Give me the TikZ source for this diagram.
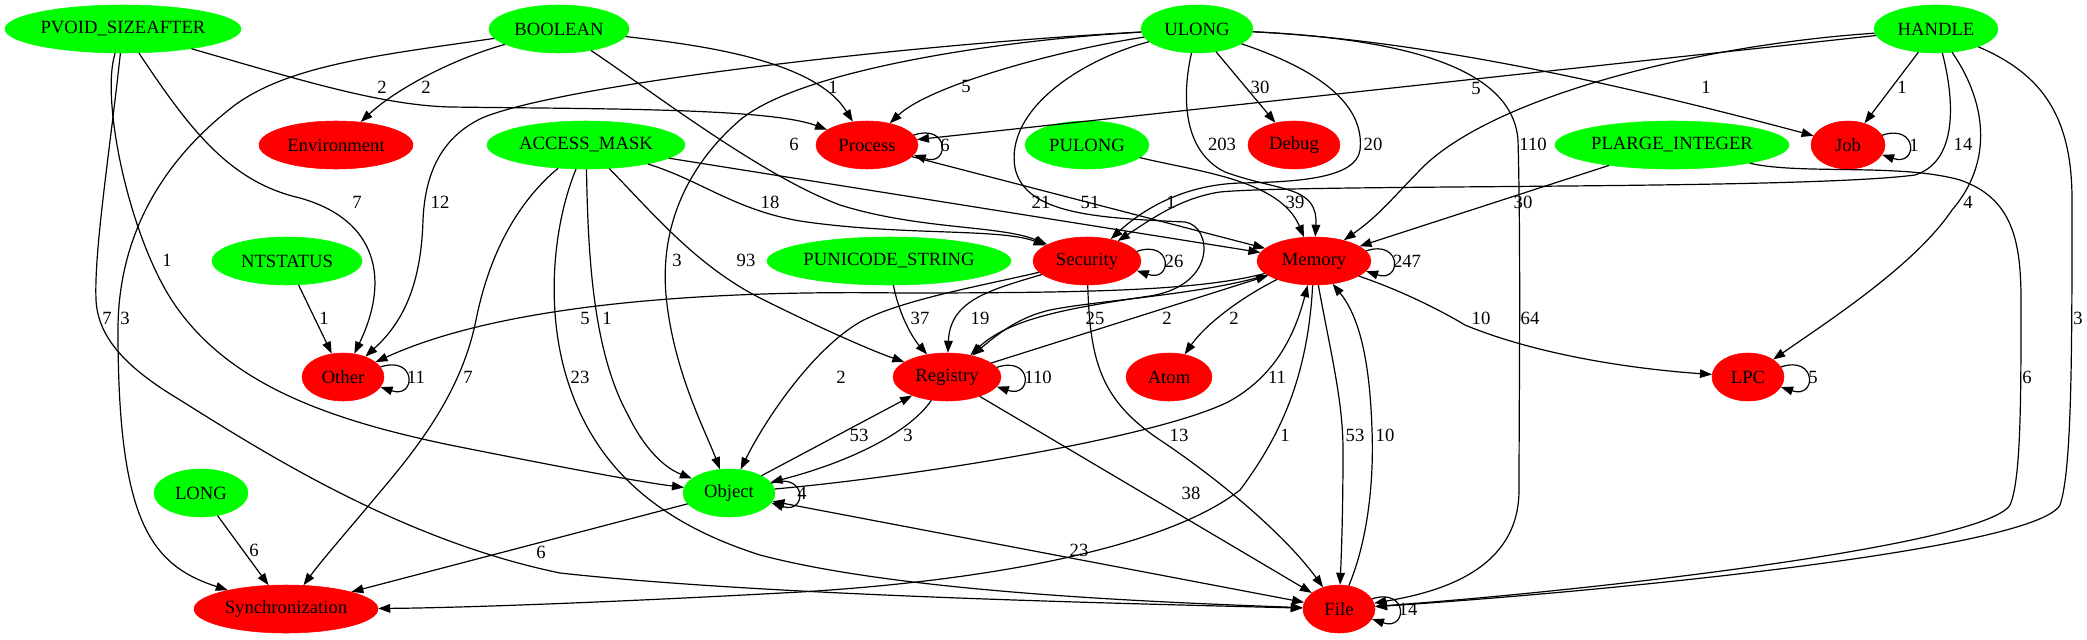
\documentclass[tikz,border=0pt]{standalone}
\usepackage{fontspec}
\setmainfont{Liberation Serif}
\newfontfamily\gvserif{Liberation Serif}
\usetikzlibrary{shapes.geometric,arrows.meta}
\definecolor{gvgreen}{RGB}{0,255,0}
\definecolor{gvred}{RGB}{255,0,0}
\newcommand\gvtxt[1]{\makebox[0pt]{#1}}
\begin{document}
\begin{tikzpicture}[x=0.75pt,y=-0.75pt,
  gvnode/.style={ellipse, inner sep=0pt, minimum height=36pt, font=\gvserif\fontsize{14pt}{16pt}\selectfont},
  gn/.style={gvnode, fill=gvgreen, draw=gvgreen},
  rn/.style={gvnode, fill=gvred, draw=gvred},
  gvedge/.style={draw=black, line width=0.9pt, -{Triangle[length=9pt,width=6.5pt]}},
  gvboth/.style={draw=black, line width=0.9pt, {Triangle[length=9pt,width=6.5pt]}-{Triangle[length=9pt,width=6.5pt]}},
  lbl/.style={font=\gvserif\fontsize{14pt}{16pt}\selectfont, inner sep=0pt}]
\fill[white] (0,0) rectangle (2087,639);
\useasboundingbox (0,0) rectangle (2087,639);
% rank 0
\node[gn, minimum width=177pt] (pvoid) at (123,29) {\gvtxt{PVOID\_SIZEAFTER}};
\node[gn, minimum width=105pt] (boolean) at (559,29) {\gvtxt{BOOLEAN}};
\node[gn, minimum width=84pt] (ulong) at (1197,29) {\gvtxt{ULONG}};
\node[gn, minimum width=93pt] (handle) at (1936,29) {\gvtxt{HANDLE}};
% rank 1
\node[rn, minimum width=115.5pt] (env) at (336,145) {\gvtxt{Environment}};
\node[gn, minimum width=148.5pt] (access) at (586,145) {\gvtxt{ACCESS\_MASK}};
\node[rn, minimum width=76.5pt] (process) at (867,145) {\gvtxt{Process}};
\node[gn, minimum width=93pt] (pulong) at (1087,145) {\gvtxt{PULONG}};
\node[rn, minimum width=69pt] (debug) at (1294,145) {\gvtxt{Debug}};
\node[gn, minimum width=175.5pt] (plarge) at (1672,145) {\gvtxt{PLARGE\_INTEGER}};
\node[rn, minimum width=55.5pt] (job) at (1848,145) {\gvtxt{Job}};
% rank 2
\node[gn, minimum width=112.5pt] (ntstatus) at (287,261) {\gvtxt{NTSTATUS}};
\node[gn, minimum width=183pt] (punicode) at (889,261) {\gvtxt{PUNICODE\_STRING}};
\node[rn, minimum width=81pt] (security) at (1087,261) {\gvtxt{Security}};
\node[rn, minimum width=85.5pt] (memory) at (1314,261) {\gvtxt{Memory}};
% rank 3
\node[rn, minimum width=61.5pt] (other) at (343,377) {\gvtxt{Other}};
\node[rn, minimum width=81pt] (registry) at (947,377) {\gvtxt{Registry}};
\node[rn, minimum width=64.5pt] (atom) at (1169,377) {\gvtxt{Atom}};
\node[rn, minimum width=54pt] (lpc) at (1748,377) {\gvtxt{LPC}};
% rank 4
\node[gn, minimum width=70.5pt] (long) at (201,493) {\gvtxt{LONG}};
\node[gn, minimum width=69pt] (object) at (729,493) {\gvtxt{Object}};
% rank 5
\node[rn, minimum width=138pt] (sync) at (286,609) {\gvtxt{Synchronization}};
\node[rn, minimum width=54pt] (file) at (1339,609) {\gvtxt{File}};

% PVOID_SIZEAFTER
\draw[gvedge] (pvoid) .. controls (300,80) and (380,105) .. (450,107) .. controls (600,109) and (770,108) .. (process) node[lbl] (l01) at (382,87) {2};
\draw[gvedge] (pvoid) .. controls (190,130) and (230,182) .. (300,198) .. controls (378,220) and (390,280) .. (other) node[lbl] (l02) at (357,202) {7};
\draw[gvedge] (pvoid) .. controls (100,100) and (130,240) .. (175,305) .. controls (230,385) and (330,420) .. (450,445) .. controls (560,467) and (640,482) .. (object) node[lbl] (l03) at (167,260) {1};
\draw[gvedge] (pvoid) .. controls (110,150) and (94,250) .. (96,300) .. controls (98,340) and (130,370) .. (180,400) .. controls (260,450) and (400,540) .. (560,573) .. controls (760,595) and (1100,603) .. (file) node[lbl] (l04) at (107,318) {7};
% BOOLEAN
\draw[gvedge] (boolean) .. controls (450,60) and (395,90) .. (env) node[lbl] (l05) at (426,87) {2};
\draw[gvedge] (boolean) .. controls (380,55) and (290,65) .. (235,105) .. controls (150,170) and (118,250) .. (118,330) .. controls (118,520) and (150,565) .. (sync) node[lbl] (l06) at (125,318) {3};
\draw[gvedge] (boolean) .. controls (700,45) and (815,60) .. (process) node[lbl] (l07) at (833,87) {1};
\draw[gvedge] (boolean) .. controls (650,90) and (760,175) .. (840,205) .. controls (920,230) and (1000,225) .. (security) node[lbl] (l08) at (794,144) {6};
% ULONG
\draw[gvedge] (ulong) .. controls (1060,50) and (930,85) .. (process) node[lbl] (l09) at (966,86) {5};
\draw[gvedge] (ulong) .. controls (900,45) and (560,85) .. (482,118) .. controls (440,138) and (425,175) .. (423,220) .. controls (421,290) and (400,325) .. (other) node[lbl] (l10) at (440,202) {12};
\draw[gvedge] (ulong) .. controls (1000,40) and (800,70) .. (740,120) .. controls (688,165) and (660,225) .. (666,295) .. controls (673,370) and (705,430) .. (object) node[lbl] (l11) at (677,260) {3};
\draw[gvedge] (ulong) -- (debug) node[lbl] (l12) at (1260,87) {30};
\draw[gvedge] (ulong) .. controls (1183,90) and (1180,150) .. (1225,172) .. controls (1280,192) and (1318,185) .. (memory) node[lbl] (l13) at (1222,144) {203};
\draw[gvedge] (ulong) .. controls (1320,70) and (1365,105) .. (1360,150) .. controls (1356,178) and (1300,182) .. (1240,183) .. controls (1180,185) and (1140,212) .. (security) node[lbl] (l14) at (1373,144) {20};
\draw[gvedge] (ulong) .. controls (1380,38) and (1512,60) .. (1518,140) .. controls (1521,250) and (1519,400) .. (1519,490) .. controls (1519,570) and (1440,592) .. (file) node[lbl] (l15) at (1530,318) {64};
\draw[gvedge] (ulong) .. controls (1380,38) and (1550,65) .. (job) node[lbl] (l16) at (1706,87) {1};
\draw[gvedge] (ulong) .. controls (1080,60) and (1005,110) .. (1015,168) .. controls (1025,215) and (1100,218) .. (1185,222) .. controls (1212,226) and (1218,285) .. (1150,296) .. controls (1070,308) and (1010,318) .. (registry) node[lbl] (l17) at (1090,202) {51};
% HANDLE
\draw[gvedge] (handle) -- (process) node[lbl] (l18) at (1476,88) {5};
\draw[gvedge] (handle) .. controls (1700,45) and (1500,95) .. (1425,165) .. controls (1395,195) and (1380,215) .. (memory) node[lbl] (l19) at (1533,144) {110};
\draw[gvedge] (handle) -- (job) node[lbl] (l20) at (1902,87) {1};
\draw[gvedge] (handle) .. controls (1952,90) and (1962,160) .. (1915,175) .. controls (1800,190) and (1300,184) .. (1220,192) .. controls (1180,198) and (1150,220) .. (security) node[lbl] (l21) at (1963,144) {14};
\draw[gvedge] (handle) .. controls (1985,100) and (1995,160) .. (1952,210) .. controls (1915,265) and (1830,320) .. (lpc) node[lbl] (l22) at (1968,202) {4};
\draw[gvedge] (handle) .. controls (2045,75) and (2072,120) .. (2072,200) .. controls (2072,350) and (2072,470) .. (2060,505) .. controls (2035,550) and (1600,592) .. (file) node[lbl] (l23) at (2078,318) {3};
% PULONG, PLARGE_INTEGER
\draw[gvedge] (pulong) .. controls (1200,172) and (1280,180) .. (memory) node[lbl] (l24) at (1295,202) {39};
\draw[gvedge] (plarge) -- (memory) node[lbl] (l25) at (1523,202) {30};
\draw[gvedge] (plarge) .. controls (1800,175) and (1900,163) .. (1960,180) .. controls (2012,198) and (2021,240) .. (2021,300) .. controls (2021,400) and (2021,480) .. (2010,505) .. controls (1985,545) and (1600,590) .. (file) node[lbl] (l26) at (2027,377) {6};
% self loops
\draw[gvedge] (process.12) .. controls +(36,-12) and +(36,12) .. (process.-12) node[lbl] (l27) at (945,145) {6};
\draw[gvedge] (job.16) .. controls +(36,-12) and +(36,12) .. (job.-16) node[lbl] (l28) at (1914,145) {1};
\draw[gvedge] (security.11) .. controls +(36,-12) and +(36,12) .. (security.-11) node[lbl] (l29) at (1174,261) {26};
\draw[gvedge] (memory.11) .. controls +(36,-12) and +(36,12) .. (memory.-11) node[lbl] (l30) at (1407,261) {247};
\draw[gvedge] (registry.11) .. controls +(36,-12) and +(36,12) .. (registry.-11) node[lbl] (l31) at (1038,377) {110};
\draw[gvedge] (other.15) .. controls +(36,-12) and +(36,12) .. (other.-15) node[lbl] (l32) at (416,377) {11};
\draw[gvedge] (lpc.17) .. controls +(36,-12) and +(36,12) .. (lpc.-17) node[lbl] (l33) at (1813,377) {5};
\draw[gvedge] (object.13) .. controls +(36,-12) and +(36,12) .. (object.-13) node[lbl] (l34) at (802,493) {4};
\draw[gvedge] (file.17) .. controls +(36,-12) and +(36,12) .. (file.-17) node[lbl] (l35) at (1408,609) {14};
% NTSTATUS
\draw[gvedge] (ntstatus) -- (other) node[lbl] (l36) at (324,318) {1};
% ACCESS_MASK
\draw[gvedge] (access) .. controls (700,180) and (735,210) .. (800,221) .. controls (900,236) and (1000,228) .. (security) node[lbl] (l37) at (770,202) {18};
\draw[gvedge] (access) -- (memory) node[lbl] (l38) at (1041,202) {21};
\draw[gvedge] (access) .. controls (650,210) and (695,265) .. (760,298) .. controls (820,328) and (870,350) .. (registry) node[lbl] (l39) at (746,260) {93};
\draw[gvedge] (access) .. controls (520,200) and (490,250) .. (476,320) .. controls (462,390) and (420,445) .. (380,492) .. controls (350,528) and (322,560) .. (sync) node[lbl] (l40) at (468,377) {7};
\draw[gvedge] (access) .. controls (555,220) and (545,300) .. (565,372) .. controls (590,460) and (650,520) .. (760,555) .. controls (900,592) and (1150,602) .. (file) node[lbl] (l41) at (580,377) {23};
\draw[gvedge] (access) .. controls (588,250) and (592,350) .. (628,415) .. controls (645,450) and (665,468) .. (object) node[lbl] (l42) at (607,318) {1};
% PUNICODE_STRING, Process
\draw[gvedge] (punicode) .. controls (898,310) and (910,335) .. (registry) node[lbl] (l43) at (920,318) {37};
\draw[gvedge] (process) -- (memory) node[lbl] (l44) at (1171,202) {1};
% Security
\draw[gvedge] (security) .. controls (990,290) and (950,300) .. (registry) node[lbl] (l45) at (980,318) {19};
\draw[gvedge] (security) .. controls (985,285) and (900,300) .. (860,322) .. controls (812,350) and (765,420) .. (object) node[lbl] (l46) at (841,377) {2};
\draw[gvedge] (security) .. controls (1090,360) and (1100,400) .. (1160,440) .. controls (1220,480) and (1285,535) .. (file) node[lbl] (l47) at (1179,435) {13};
% Memory
\draw[gvedge] (memory) .. controls (1200,290) and (1100,293) .. (900,293) .. controls (700,290) and (500,305) .. (other) node[lbl] (l48) at (585,318) {5};
\draw[gvedge] (memory) .. controls (1200,295) and (1100,300) .. (1050,310) .. controls (1020,317) and (1000,332) .. (registry) node[lbl] (l49) at (1095,318) {25};
\draw[gvedge] (registry) -- (memory) node[lbl] (l50) at (1167,318) {2};
\draw[gvedge] (memory) .. controls (1240,298) and (1205,325) .. (atom) node[lbl] (l51) at (1234,318) {2};
\draw[gvedge] (memory) .. controls (1400,290) and (1440,310) .. (1465,325) .. controls (1530,352) and (1620,368) .. (lpc) node[lbl] (l52) at (1481,318) {10};
\draw[gvedge] (memory) .. controls (1308,370) and (1285,430) .. (1240,490) .. controls (1170,545) and (1000,580) .. (800,592) .. controls (600,603) and (450,608) .. (sync) node[lbl] (l53) at (1285,435) {1};
\draw[gvedge] (memory) .. controls (1330,350) and (1343,400) .. (1343,450) .. controls (1343,500) and (1342,540) .. (file) node[lbl] (l54) at (1355,435) {53};
\draw[gvedge] (file) .. controls (1368,540) and (1374,480) .. (1372,430) .. controls (1370,370) and (1362,320) .. (memory) node[lbl] (l55) at (1385,435) {10};
% Object, Registry, LONG
\draw[gvedge] (object) .. controls (900,478) and (1150,440) .. (1228,402) .. controls (1278,375) and (1296,330) .. (memory) node[lbl] (l56) at (1277,377) {11};
\draw[gvedge] (object) -- (registry) node[lbl] (l57) at (859,435) {53};
\draw[gvedge] (registry) .. controls (910,432) and (850,462) .. (object) node[lbl] (l58) at (908,435) {3};
\draw[gvedge] (registry) -- (file) node[lbl] (l59) at (1191,493) {38};
\draw[gvboth] (object) -- (file) node[lbl] (l60) at (1079,550) {23};
\draw[gvedge] (object) -- (sync) node[lbl] (l61) at (541,552) {6};
\draw[gvedge] (long) -- (sync) node[lbl] (l62) at (254,550) {6};
\end{tikzpicture}
\end{document}
